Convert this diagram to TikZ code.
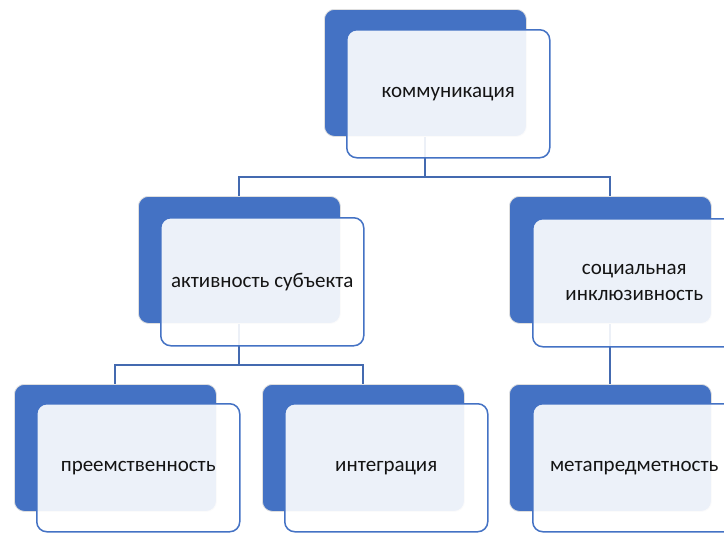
\documentclass[tikz,border=0pt]{standalone}
\usepackage{fontspec}
\setmainfont{Carlito}
\usetikzlibrary{calc}
\definecolor{accent}{RGB}{68,114,196}
\definecolor{conncol}{RGB}{68,106,176}
\definecolor{txt}{RGB}{20,20,20}
\tikzset{
  backbox/.style={draw=gray!25, line width=0.8pt, fill=accent, rounded corners=10pt,
    minimum width=202pt, minimum height=127pt, inner sep=0pt, anchor=north west},
  frontbox/.style={draw=accent, line width=1.5pt, fill=white, fill opacity=0.9, text opacity=1,
    rounded corners=10pt, minimum width=203pt, minimum height=128pt, inner sep=0pt,
    anchor=north west, text=txt, font=\fontsize{21}{26}\selectfont, align=center},
  conn/.style={draw=conncol, line width=2pt}
}
\begin{document}
\begin{tikzpicture}[x=1pt,y=-1pt]
\useasboundingbox (0,0) rectangle (724,533);
\clip (0,0) rectangle (724,533);
% junction levels
\coordinate (j1) at (0,177);
\coordinate (j2) at (0,365);
% invisible placeholders for connector ends
\path (324,9) node[backbox, draw=none, fill=none] (bt0) {};
\path (138,196) node[backbox, draw=none, fill=none] (bl0) {};
\path (509,196) node[backbox, draw=none, fill=none] (br0) {};
\path (14,384) node[backbox, draw=none, fill=none] (b10) {};
\path (262,384) node[backbox, draw=none, fill=none] (b20) {};
\path (509,384) node[backbox, draw=none, fill=none] (b30) {};
% connectors
\draw[conn] (bt0.center) -- (bt0.center |- j1) -| (bl0.north);
\draw[conn] (bt0.center |- j1) -| (br0.north);
\draw[conn] (bl0.center) -- (bl0.center |- j2) -| (b10.north);
\draw[conn] (bl0.center |- j2) -| (b20.north);
\draw[conn] (br0.center) -- (b30.north);
% back boxes
\node[backbox] (bt) at (324,9) {};
\node[backbox] (bl) at (138,196) {};
\node[backbox] (br) at (509,196) {};
\node[backbox] (b1) at (14,384) {};
\node[backbox] (b2) at (262,384) {};
\node[backbox] (b3) at (509,384) {};
% front boxes
\node[frontbox] (ft) at (346,29) {коммуникация};
\node[frontbox] (fl) at (160,217) {активность субъекта};
\node[frontbox] (fr) at (532,218) {социальная\\инклюзивность};
\node[frontbox] (f1) at (36,403) {преемственность};
\node[frontbox] (f2) at (284,403) {интеграция};
\node[frontbox] (f3) at (532,403) {метапредметность};
\end{tikzpicture}
\end{document}
